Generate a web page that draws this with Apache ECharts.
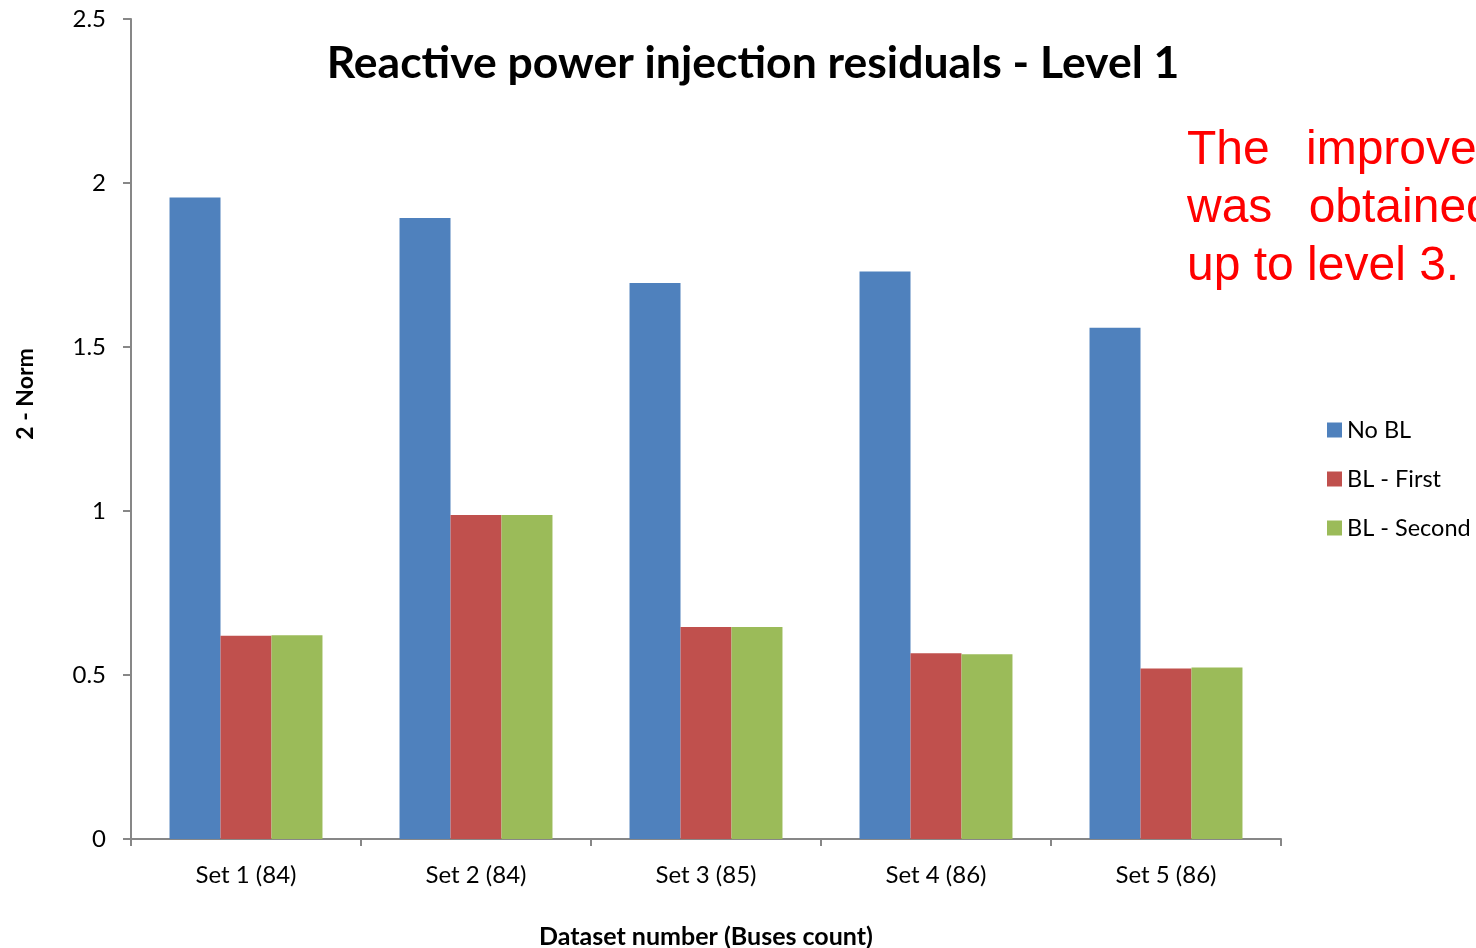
<!DOCTYPE html>
<html><head><meta charset="utf-8">
<script src="https://cdn.jsdelivr.net/npm/echarts@6/dist/echarts.min.js"></script>
<style>html,body{margin:0;padding:0;background:#fff;overflow:hidden}#c{width:1476px;height:948px}</style>
</head><body><div id="c"></div>
<script>
const categories = ['Set 1 (84)', 'Set 2 (84)', 'Set 3 (85)', 'Set 4 (86)', 'Set 5 (86)'];
const noBL = [1.956, 1.893, 1.695, 1.730, 1.559];
const blFirst = [0.620, 0.988, 0.646, 0.566, 0.520];
const blSecond = [0.621, 0.988, 0.646, 0.563, 0.523];
const seriesNames = ['No BL', 'BL - First', 'BL - Second'];
const colors = ['#4F81BD', '#C0504D', '#9BBB59'];
const yTicks = [0, 0.5, 1, 1.5, 2, 2.5];

const font = 'Lato, "Open Sans", sans-serif';
const redFont = '48px "Liberation Sans", Arial, sans-serif';
const chart = echarts.init(document.getElementById('c'));
const mk = (name, data, i) => ({
  name, type: 'bar', data, barGap: '0%', barCategoryGap: '33.5%',
  itemStyle: { color: colors[i] }
});
chart.setOption({
  animation: false,
  title: {
    text: 'Reactive power injection residuals - Level 1',
    left: 748, top: 36, textAlign: 'center',
    textStyle: { fontFamily: font, fontSize: 44.5, fontWeight: 'bold', color: '#000' }
  },
  legend: {
    orient: 'vertical', left: 1322, top: 413, itemGap: 25,
    itemWidth: 15, itemHeight: 15, icon: 'rect',
    textStyle: { fontFamily: font, fontSize: 23.5, color: '#000' },
    data: seriesNames
  },
  grid: { left: 131, right: 195, top: 19, bottom: 109, containLabel: false, outerBoundsMode: 'none' },
  xAxis: {
    type: 'category', data: categories,
    name: 'Dataset number (Buses count)', nameLocation: 'middle', nameGap: 85,
    nameTextStyle: { fontFamily: font, fontSize: 25, fontWeight: 'bold', color: '#000' },
    axisLine: { lineStyle: { color: '#878787', width: 2 } },
    axisTick: { show: true, length: 7, lineStyle: { color: '#878787', width: 2 } },
    axisLabel: { fontFamily: font, fontSize: 24, color: '#000', margin: 24 }
  },
  yAxis: {
    type: 'value', min: 0, max: 2.5, interval: 0.5,
    splitLine: { show: false },
    axisLine: { show: true, lineStyle: { color: '#878787', width: 2 } },
    axisTick: { show: true, length: 8, lineStyle: { color: '#878787', width: 2 } },
    axisLabel: { fontFamily: font, fontSize: 24, color: '#000', margin: 25,
      formatter: v => yTicks.includes(v) ? String(v) : '' }
  },
  graphic: [
    { type: 'text', x: 26, y: 394, rotation: Math.PI / 2,
      style: { text: '2 - Norm', font: 'bold 23px ' + font, fill: '#000', textAlign: 'center', textVerticalAlign: 'middle' } },
    { type: 'text', left: 1187, top: 127, style: { text: 'The  \u2009improvement', font: redFont, fill: '#FF0000' } },
    { type: 'text', left: 1187, top: 185, style: { text: 'was  \u2009obtained', font: redFont, fill: '#FF0000' } },
    { type: 'text', left: 1187, top: 243, style: { text: 'up to level 3.', font: redFont, fill: '#FF0000' } }
  ],
  series: [mk(seriesNames[0], noBL, 0), mk(seriesNames[1], blFirst, 1), mk(seriesNames[2], blSecond, 2)]
});
</script></body></html>
